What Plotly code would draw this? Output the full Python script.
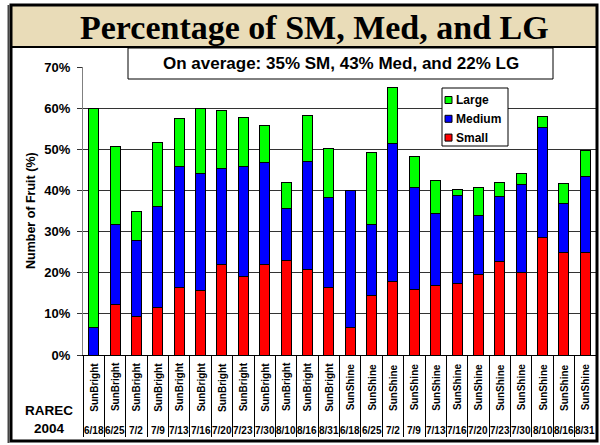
import plotly.graph_objects as go

# ---------------- data ----------------
varieties = ["SunBright"] * 12 + ["SunShine"] * 12
dates = ["6/18", "6/25", "7/2", "7/9", "7/13", "7/16", "7/20", "7/23", "7/30", "8/10", "8/16", "8/31",
         "6/18", "6/25", "7/2", "7/9", "7/13", "7/16", "7/20", "7/23", "7/30", "8/10", "8/16", "8/31"]
small = [0.0, 12.3, 9.4, 11.5, 16.5, 15.6, 21.9, 19.1, 21.9, 22.9, 20.7, 16.5,
         6.7, 14.5, 17.9, 16.0, 16.9, 17.4, 19.6, 22.7, 20.0, 28.6, 24.8, 24.8]
medium = [6.7, 19.3, 18.5, 24.6, 29.2, 28.4, 23.4, 26.6, 25.0, 12.8, 26.3, 21.9,
          33.2, 17.1, 33.4, 24.6, 17.4, 21.4, 14.4, 15.8, 21.4, 26.6, 12.0, 18.7]
large = [53.3, 19.1, 7.0, 15.6, 11.7, 15.9, 14.1, 12.1, 9.0, 6.3, 11.3, 11.9,
         0.0, 17.5, 13.8, 7.7, 8.2, 1.5, 6.6, 3.5, 2.8, 2.8, 4.8, 6.2]
series_names = ["Small", "Medium", "Large"]
series_colors = ["#FF0000", "#0000FF", "#00FF00"]
y_ticks = [0, 10, 20, 30, 40, 50, 60, 70]

title_text = "Percentage of SM, Med, and LG"
note_text = "On average: 35% SM, 43% Med, and 22% LG"
y_title = "Number of Fruit (%)"
corner_text = "RAREC<br>2004"

# ---------------- layout helpers ----------------
PL, PR, PT, PB = 83, 596, 67, 355
W, H = 600, 445


def X(px):
    return (px - PL) / (PR - PL)


def Y(py):
    return (PB - py) / (PB - PT)


cats = [f"{v} {d} {i}" for i, (v, d) in enumerate(zip(varieties, dates))]

fig = go.Figure()
for name, vals, col in zip(series_names, [small, medium, large], series_colors):
    fig.add_trace(go.Bar(x=cats, y=vals, name=name, marker=dict(color=col, line=dict(color="black", width=1))))

SANS = "Liberation Sans, Arial, sans-serif"
shapes = []
annotations = []

# title band and frame
shapes.append(dict(type="rect", xref="paper", yref="paper", x0=X(11), x1=X(597), y0=Y(5), y1=Y(47),
                   fillcolor="#E9DCB8", line=dict(width=0), layer="below"))
shapes.append(dict(type="line", xref="paper", yref="paper", x0=X(11), x1=X(597), y0=Y(47), y1=Y(47),
                   line=dict(color="black", width=2)))
shapes.append(dict(type="rect", xref="paper", yref="paper", x0=X(11), x1=X(597), y0=Y(5), y1=Y(441),
                   line=dict(color="black", width=3)))
shapes.append(dict(type="line", xref="paper", yref="paper", x0=X(8.5), x1=X(8.5), y0=Y(5), y1=Y(443),
                   line=dict(color="#444444", width=2)))
annotations.append(dict(text=title_text, xref="paper", yref="paper", x=X(314), y=Y(27),
                        xanchor="center", yanchor="middle", showarrow=False,
                        font=dict(family="Liberation Serif, Times New Roman, serif", size=34, color="black", weight="bold")))

# note box
shapes.append(dict(type="rect", xref="paper", yref="paper", x0=X(128), x1=X(553), y0=Y(48), y1=Y(79),
                   fillcolor="white", line=dict(color="black", width=1), layer="above"))
annotations.append(dict(text=note_text, xref="paper", yref="paper", x=X(340.5), y=Y(64),
                        xanchor="center", yanchor="middle", showarrow=False,
                        font=dict(family=SANS, size=17, color="black", weight="bold")))

# legend (manual, Large / Medium / Small top to bottom)
shapes.append(dict(type="rect", xref="paper", yref="paper", x0=X(442), x1=X(508), y0=Y(88), y1=Y(146),
                   fillcolor="white", line=dict(color="black", width=1), layer="above"))
for k, (name, col) in enumerate(zip(series_names[::-1], series_colors[::-1])):
    yc = 100 + k * 18.8
    shapes.append(dict(type="rect", xref="paper", yref="paper", x0=X(445), x1=X(452), y0=Y(yc - 3.5), y1=Y(yc + 3.5),
                       fillcolor=col, line=dict(color="black", width=1), layer="above"))
    annotations.append(dict(text=name, xref="paper", yref="paper", x=X(454), y=Y(yc),
                            xanchor="left", yanchor="middle", showarrow=False,
                            font=dict(family=SANS, size=12, color="black", weight="bold")))

# y-axis title
annotations.append(dict(text=y_title, xref="paper", yref="paper", x=X(31), y=Y(211), textangle=-90,
                        xanchor="center", yanchor="middle", showarrow=False,
                        font=dict(family=SANS, size=12.5, color="black", weight="bold")))
# corner text
annotations.append(dict(text=corner_text, xref="paper", yref="paper", x=X(49), y=Y(419),
                        xanchor="center", yanchor="middle", showarrow=False,
                        font=dict(family=SANS, size=13.5, color="black", weight="bold")))

# category labels
for c, v, d in zip(cats, varieties, dates):
    annotations.append(dict(text=v, xref="x", yref="paper", x=c, y=Y(387), textangle=-90,
                            xanchor="center", yanchor="middle", showarrow=False,
                            font=dict(family=SANS, size=10, color="black", weight="bold")))
    annotations.append(dict(text=d, xref="x", yref="paper", x=c, y=Y(430),
                            xanchor="center", yanchor="middle", showarrow=False,
                            font=dict(family=SANS, size=10, color="black", weight="bold")))

fig.update_layout(
    width=W, height=H,
    margin=dict(l=PL, r=W - PR, t=PT, b=H - PB),
    paper_bgcolor="white", plot_bgcolor="white",
    barmode="stack", bargap=0.53, showlegend=False,
    font=dict(family=SANS, color="black"),
    shapes=shapes, annotations=annotations,
    xaxis=dict(type="category", tickson="boundaries", ticks="outside", ticklen=81, tickcolor="black",
               tickwidth=1, showticklabels=False, showline=True, linecolor="black", showgrid=False,
               range=[-0.5, len(cats) - 0.5], fixedrange=True),
    yaxis=dict(range=[0, 70], tickvals=y_ticks, ticktext=[f"{t}%" for t in y_ticks],
               tickfont=dict(family=SANS, size=13, color="black", weight="bold"),
               ticks="outside", ticklen=5, tickcolor="#333333", ticklabelstandoff=4,
               showgrid=True, gridcolor="#333333", gridwidth=1,
               showline=True, linecolor="#808080", mirror=True, zeroline=False, fixedrange=True),
)

fig.write_html("out.html", config={"displayModeBar": False},
               post_script="document.body.style.margin='0';document.body.style.overflow='hidden';")
